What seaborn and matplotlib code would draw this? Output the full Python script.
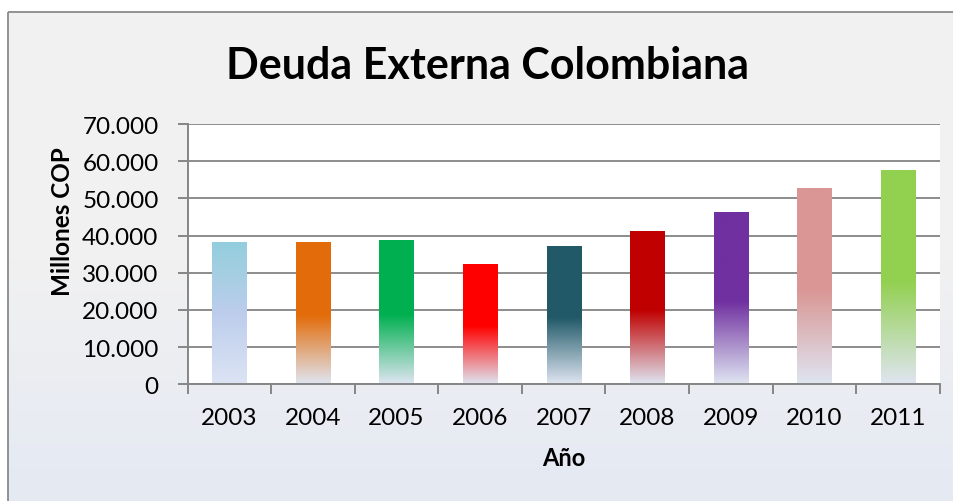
import numpy as np
import pandas as pd
import matplotlib
matplotlib.use("Agg")
import matplotlib.pyplot as plt
import seaborn as sns
from matplotlib.colors import LinearSegmentedColormap
from matplotlib.patches import Rectangle
from matplotlib.ticker import FuncFormatter, MultipleLocator, FixedLocator

years = ["2003", "2004", "2005", "2006", "2007", "2008", "2009", "2010", "2011"]
deuda = [38300, 38300, 38800, 32400, 37200, 41200, 46300, 52800, 57600]
colors = ["#93cddd", "#e36c0a", "#00b050", "#ff0000", "#215968",
          "#c00000", "#7030a0", "#d99694", "#92d050"]
title = "Deuda Externa Colombiana"
ylabel = "Millones COP"
xlabel = "Año"

sns.set_theme(style="white")
plt.rcParams['font.family'] = ['Lato', 'DejaVu Sans']

W, H = 954, 502
fig = plt.figure(figsize=(W / 100, H / 100), dpi=100)
fig.patch.set_facecolor("white")

# background gradient panel with border
bg = fig.add_axes([0, 0, 1, 1], zorder=-10)
bg.set_axis_off()
grad_bg = LinearSegmentedColormap.from_list("bg", ["#f2f2f2", "#f1f1f1", "#e4e9f3"])
gimg = np.linspace(0, 1, 256).reshape(-1, 1)
bg.imshow(gimg, cmap=grad_bg, extent=[8, W + 5, H + 5, 13], aspect="auto", zorder=0)
bg.add_patch(Rectangle((8, 13), W, H, fill=False, edgecolor="#8a8a8a", lw=1.3, zorder=1))
bg.set_xlim(0, W)
bg.set_ylim(H, 0)

left, right = 187.7 / W, 939.7 / W
bottom, top = 1 - 385.3 / H, 1 - 125 / H
ax = fig.add_axes([left, bottom, right - left, top - bottom])
ax.set_facecolor("white")

df = pd.DataFrame({"Año": years, "Deuda": deuda})
sns.barplot(data=df, x="Año", y="Deuda", hue="Año", palette=colors,
            legend=False, width=0.41, ax=ax, zorder=3, saturation=1)

pale = "#dfe5f1"
for i, patch in enumerate(ax.patches):
    x0 = patch.get_x()
    w = patch.get_width()
    h = patch.get_height()
    c = colors[i]
    if i == 0:
        cmap = LinearSegmentedColormap.from_list(
            "g%d" % i, [(0.0, "#dce4f4"), (0.5, "#bccdec"), (0.8, "#a3cfe2"), (1.0, c)])
    else:
        cmap = LinearSegmentedColormap.from_list(
            "g%d" % i, [(0.0, pale), (0.48, c), (1.0, c)])
    img = np.linspace(1, 0, 256).reshape(-1, 1)
    im = ax.imshow(img, cmap=cmap, vmin=0, vmax=1, extent=[x0, x0 + w, 0, h],
                   aspect="auto", zorder=3, interpolation="bilinear")
    im.set_clip_path(patch)
    patch.set_facecolor("none")
    patch.set_edgecolor("none")

ax.set_ylim(0, 70000)
ax.set_xlim(-0.5, len(years) - 0.5)
ax.set_aspect("auto")

# grid
ax.yaxis.set_major_locator(MultipleLocator(10000))
ax.yaxis.set_major_formatter(FuncFormatter(lambda v, p: f"{int(v):,}".replace(",", ".")))
ax.grid(axis="y", color="#8c8c8c", lw=1.4, zorder=1)
ax.grid(axis="x", visible=False)
ax.set_axisbelow(True)

for s in ["top", "right"]:
    ax.spines[s].set_visible(False)
for s in ["left", "bottom"]:
    ax.spines[s].set_visible(True)
    ax.spines[s].set_color("#868686")
    ax.spines[s].set_linewidth(1.4)
    ax.spines[s].set_zorder(5)

ax.tick_params(axis="y", which="major", direction="out", length=7, width=1.4,
               color="#868686", left=True, labelsize=17.5, pad=14, labelcolor="black")
ax.xaxis.set_minor_locator(FixedLocator(np.arange(-0.5, len(years), 1.0)))
ax.tick_params(axis="x", which="minor", direction="out", length=7, width=1.4,
               color="#868686", bottom=True)
ax.tick_params(axis="x", which="major", length=0, labelsize=17.5, pad=16,
               labelcolor="black")

ax.set_xlabel(xlabel, fontsize=17, fontweight="bold", labelpad=13, color="black")
ax.set_ylabel(ylabel, fontsize=17.5, fontweight="bold", color="black")
ax.yaxis.set_label_coords(-0.151, 0.629)

fig.text(488 / W, 1 - 66 / H, title, ha="center", va="center",
         fontsize=31, fontweight="bold", color="black")

fig.savefig("out.png", dpi=100, facecolor=fig.get_facecolor())
